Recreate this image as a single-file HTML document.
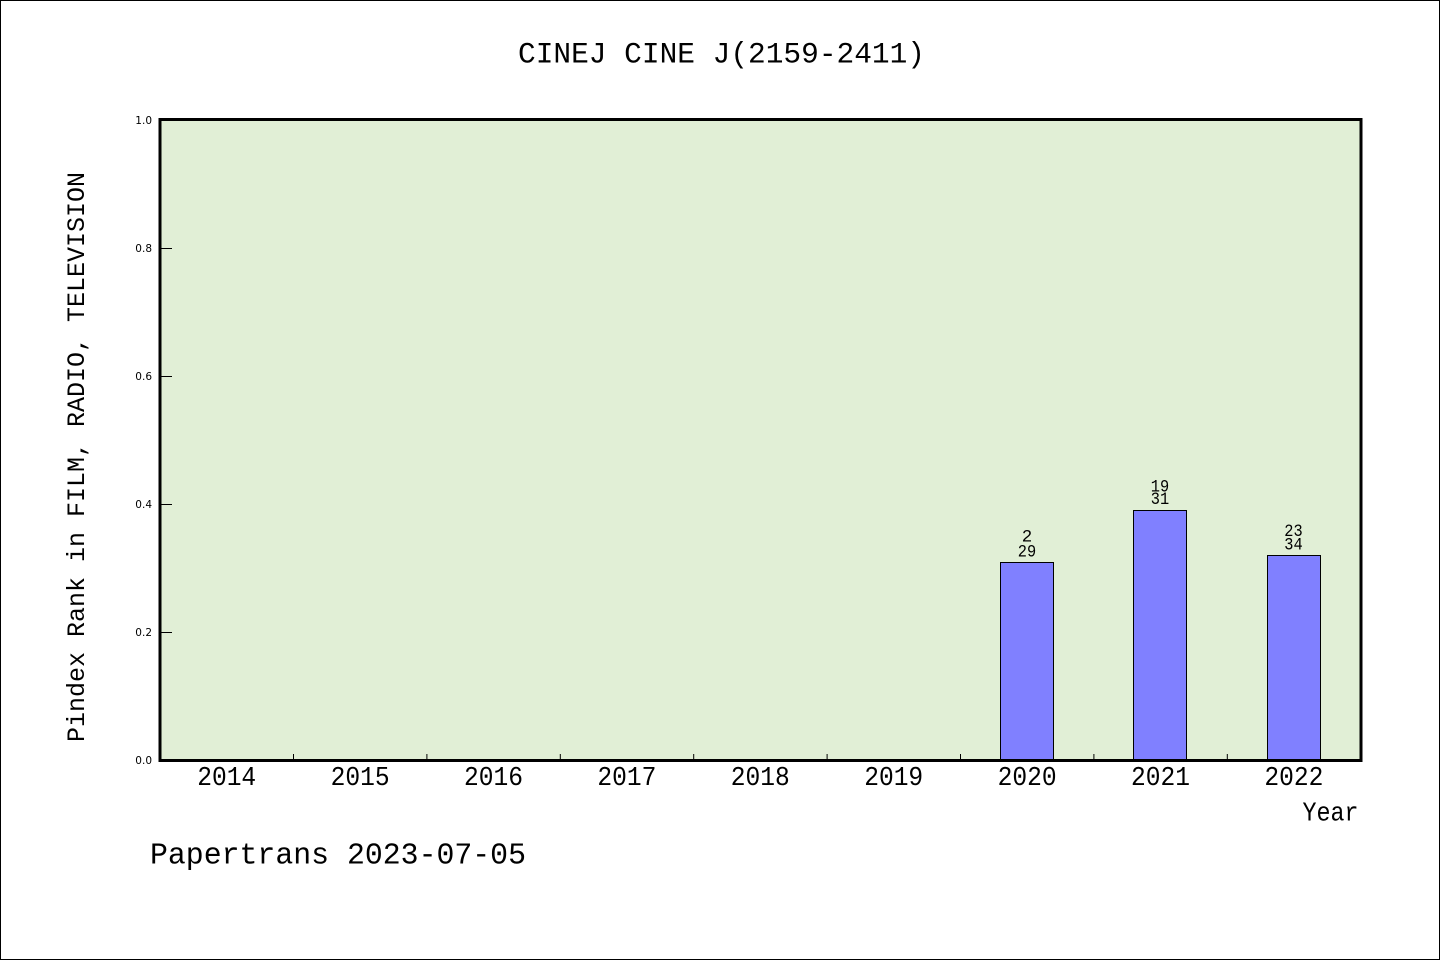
<!DOCTYPE html>
<html>
<head>
<meta charset="utf-8">
<style>
html,body{margin:0;padding:0;background:#fff;}
svg{display:block;}
text{font-family:"Liberation Mono","DejaVu Sans Mono",monospace;fill:#000;}
.tk text{font-family:"DejaVu Sans","Liberation Sans",sans-serif;font-size:10.5px;}
</style>
</head>
<body>
<svg width="1440" height="960" viewBox="0 0 1440 960" xmlns="http://www.w3.org/2000/svg">
<rect x="0" y="0" width="1440" height="960" fill="#fff"/>
<rect x="0.5" y="0.5" width="1439" height="959" fill="none" stroke="#000" stroke-width="1"/>

<text x="721.5" y="62.7" font-size="29.5" text-anchor="middle" textLength="407" lengthAdjust="spacingAndGlyphs">CINEJ CINE J(2159-2411)</text>

<!-- plot area -->
<rect x="160" y="119.5" width="1201" height="641" fill="#e1efd6"/>

<!-- bars -->
<rect x="1000.5" y="562.5" width="53" height="198" fill="#8080ff" stroke="#000" stroke-width="1"/>
<rect x="1133.5" y="510.5" width="53" height="250" fill="#8080ff" stroke="#000" stroke-width="1"/>
<rect x="1267.5" y="555.5" width="53" height="205" fill="#8080ff" stroke="#000" stroke-width="1"/>

<!-- bar labels -->
<g font-size="17.5" text-anchor="middle">
<text x="1027" y="541.7">2</text>
<text x="1027" y="556.7" textLength="18.4" lengthAdjust="spacingAndGlyphs">29</text>
<text x="1160" y="491.7" textLength="18.4" lengthAdjust="spacingAndGlyphs">19</text>
<text x="1160" y="504" textLength="18.4" lengthAdjust="spacingAndGlyphs">31</text>
<text x="1293.5" y="536" textLength="18.4" lengthAdjust="spacingAndGlyphs">23</text>
<text x="1293.5" y="549.3" textLength="18.4" lengthAdjust="spacingAndGlyphs">34</text>
</g>

<!-- y ticks -->
<g stroke="#000" stroke-width="1">
<line x1="160" y1="248.5" x2="172" y2="248.5"/>
<line x1="160" y1="376.5" x2="172" y2="376.5"/>
<line x1="160" y1="504.5" x2="172" y2="504.5"/>
<line x1="160" y1="632.5" x2="172" y2="632.5"/>
</g>
<!-- x ticks -->
<g stroke="#000" stroke-width="1">
<line x1="293.5" y1="754" x2="293.5" y2="760"/>
<line x1="426.9" y1="754" x2="426.9" y2="760"/>
<line x1="560.3" y1="754" x2="560.3" y2="760"/>
<line x1="693.7" y1="754" x2="693.7" y2="760"/>
<line x1="827.1" y1="754" x2="827.1" y2="760"/>
<line x1="960.5" y1="754" x2="960.5" y2="760"/>
<line x1="1093.9" y1="754" x2="1093.9" y2="760"/>
<line x1="1227.3" y1="754" x2="1227.3" y2="760"/>
</g>

<!-- plot frame -->
<rect x="160" y="119.5" width="1201" height="641" fill="none" stroke="#000" stroke-width="3"/>

<!-- y tick labels -->
<g class="tk" text-anchor="end">
<text x="152" y="124">1.0</text>
<text x="152" y="252">0.8</text>
<text x="152" y="380">0.6</text>
<text x="152" y="508">0.4</text>
<text x="152" y="636">0.2</text>
<text x="152" y="764">0.0</text>
</g>

<!-- x tick labels -->
<g font-size="27" text-anchor="middle">
<text x="226.7" y="785" textLength="59" lengthAdjust="spacingAndGlyphs">2014</text>
<text x="360.1" y="785" textLength="59" lengthAdjust="spacingAndGlyphs">2015</text>
<text x="493.5" y="785" textLength="59" lengthAdjust="spacingAndGlyphs">2016</text>
<text x="626.9" y="785" textLength="59" lengthAdjust="spacingAndGlyphs">2017</text>
<text x="760.3" y="785" textLength="59" lengthAdjust="spacingAndGlyphs">2018</text>
<text x="893.7" y="785" textLength="59" lengthAdjust="spacingAndGlyphs">2019</text>
<text x="1027.1" y="785" textLength="59" lengthAdjust="spacingAndGlyphs">2020</text>
<text x="1160.5" y="785" textLength="59" lengthAdjust="spacingAndGlyphs">2021</text>
<text x="1293.9" y="785" textLength="59" lengthAdjust="spacingAndGlyphs">2022</text>
</g>

<text x="1358.5" y="820.7" font-size="27" text-anchor="end" textLength="56" lengthAdjust="spacingAndGlyphs">Year</text>

<text transform="translate(84,457) rotate(-90)" x="0" y="0" font-size="25" text-anchor="middle" textLength="570" lengthAdjust="spacingAndGlyphs">Pindex Rank in FILM, RADIO, TELEVISION</text>

<text x="150" y="863.3" font-size="31" textLength="376" lengthAdjust="spacingAndGlyphs">Papertrans 2023-07-05</text>
</svg>
</body>
</html>
